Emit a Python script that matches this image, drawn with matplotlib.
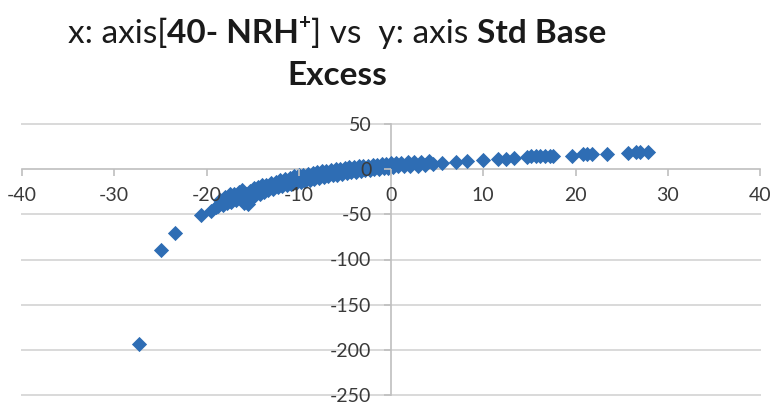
import matplotlib
matplotlib.use("Agg")
import matplotlib.pyplot as plt

plt.rcParams['axes.unicode_minus'] = False
plt.rcParams['font.family'] = ['Lato', 'DejaVu Sans']

# 40 - NRH+ (x) and standard base excess (y) per sample
nrh = [-27.3, -24.9, -23.4, -20.6, -19.5, -19.0,
       -18.8, -18.5, -18.2, -18.0, -17.8, -17.5, -17.3, -17.0, -16.8, -16.5,
       -16.3, -16.1, -15.9, -15.7, -15.5, -15.3, -15.1, -14.9, -14.7, -14.4,
       -14.2, -14.0, -13.8, -13.5, -13.3, -13.0, -12.8, -12.5, -12.3, -12.0,
       -11.8, -11.5, -11.3, -11.0, -10.8, -10.5, -10.3, -10.0, -9.8, -9.5,
       -9.3, -9.0, -8.8, -8.5, -8.3, -8.0, -7.8, -7.5, -7.3, -7.0, -6.8,
       -6.5, -6.3, -6.0, -5.8, -5.5, -5.3, -5.0, -4.8, -4.5, -4.3, -4.0,
       -3.8, -3.5, -3.3, -3.0, -2.8, -2.5, -2.3, -2.0, -1.8, -1.5, -1.3,
       -1.0, -0.8, -0.5, -0.3, 0.0, 0.2, 0.5, 0.8, 1.1, 1.4, 1.8, 2.1, 2.5,
       2.9, 3.3, 3.7, 4.1, 4.6,
       5.5, 7.1, 8.2, 10.0, 11.6, 12.5, 13.3, 14.7, 15.2, 15.7, 16.2, 16.7,
       17.2, 17.6, 19.6, 20.8, 21.3, 21.8, 23.4, 25.7, 26.6, 27.0, 27.9]
sbe = [-194, -90, -71, -51, -46, -42,
       -41, -34, -40, -31, -38, -28, -36, -27, -34, -25,
       -32, -23, -37, -27, -39, -24, -32, -21, -29, -20,
       -27, -18, -25, -17, -23, -15, -22, -14, -20, -12,
       -19, -11, -17, -10, -16, -8, -15, -7, -14, -6,
       -13, -5, -12, -4, -11, -3, -10, -2, -9, -2, -8,
       -1, -7, 0, -6, 0, -5, 1, -4, 2, -3, 2,
       -3, 3, -2, 4, -1, 4, -1, 5, 0, 5, 0,
       6, 1, 6, 1, 7, 2, 7, 3, 7, 3, 8, 4, 8,
       4, 8, 5, 9, 6,
       7, 8, 8.5, 9.6, 11, 11.4, 12, 14, 14.3, 14.4, 14.4, 14.5,
       14.6, 14.3, 15, 16.5, 17, 17, 17.3, 18, 18.5, 19, 19]

x_ticks = [-40, -30, -20, -10, 0, 10, 20, 30, 40]
y_ticks = [-250, -200, -150, -100, -50, 0, 50]

W, H = 771, 407
fig = plt.figure(figsize=(W / 100, H / 100), dpi=100)
ax = fig.add_axes([22 / W, 1 - 395 / H, (760 - 22) / W, (395 - 124) / H])
ax.set_xlim(-40, 40)
ax.set_ylim(-250, 50)

# horizontal gridlines under the markers
for v in y_ticks:
    if v != 0:
        ax.axhline(v, color='#d9d9d9', lw=1.4, zorder=0.5, clip_on=False)

ax.scatter(nrh, sbe, marker='D', s=60, color='#2e6db4', linewidths=0, zorder=2)

# axes cross at the origin, labels sit on top of the markers
ax.set_axisbelow(False)
for side in ['top', 'right']:
    ax.spines[side].set_visible(False)
for side in ['left', 'bottom']:
    ax.spines[side].set_position(('data', 0))
    ax.spines[side].set_color('#bfbfbf')
    ax.spines[side].set_linewidth(1.2)
    ax.spines[side].set_zorder(1)

ax.set_xticks(x_ticks)
ax.set_yticks(y_ticks)
ax.set_xticklabels([str(v) for v in x_ticks])
ax.set_yticklabels([str(v) for v in y_ticks])
ax.tick_params(axis='both', colors='#bfbfbf', labelcolor='#3a3a3a',
               labelsize=14, length=5, width=1.2, direction='out')
ax.tick_params(axis='x', pad=8)
ax.tick_params(axis='y', pad=9)
ax.patch.set_visible(False)


def draw_line(parts, base_px, center_px, size):
    # lay out mixed-weight pieces side by side, centred on center_px
    r = fig.canvas.get_renderer()
    items = []
    for s, bold, sup in parts:
        fs = size * 0.62 if sup else size
        t = fig.text(0, 0, s, fontsize=fs, fontweight='bold' if bold else 'normal',
                     va='baseline', ha='left', color='#1a1a1a')
        items.append((t, sup))
    widths = [t.get_window_extent(r).width for t, _ in items]
    x = center_px - sum(widths) / 2
    for (t, sup), w in zip(items, widths):
        lift = size * 0.42 * 100 / 72 if sup else 0
        t.set_position((x / W, (H - base_px + lift) / H))
        x += w


draw_line([("x: axis[", False, False), ("40- NRH", True, False), ("+", True, True),
           ("] vs  y: axis ", False, False), ("Std Base", True, False)],
          43, 337, 24)
draw_line([("Excess", True, False)], 85, 337, 24)

fig.savefig('out.png', dpi=100)
